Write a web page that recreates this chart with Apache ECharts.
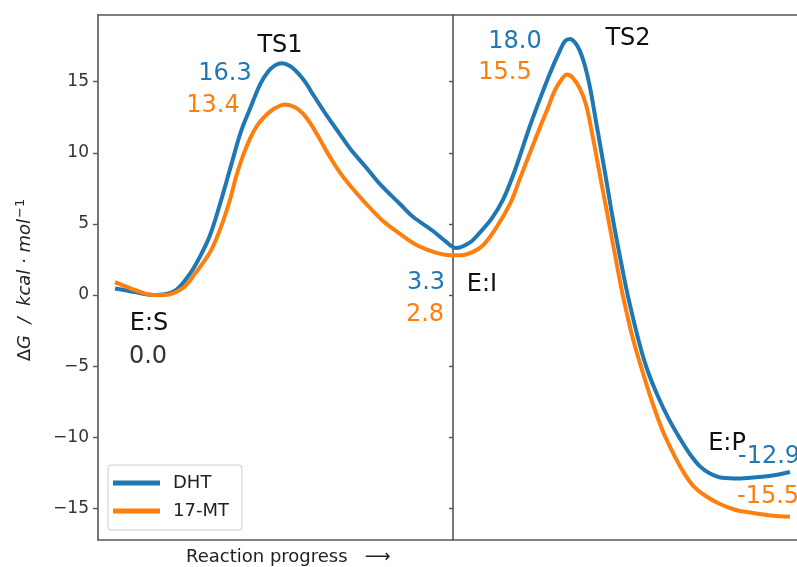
<!DOCTYPE html>
<html><head><meta charset="utf-8">
<script src="https://cdn.jsdelivr.net/npm/echarts@6/dist/echarts.min.js"></script>
<style>html,body{margin:0;padding:0;background:#fff}#c{width:797px;height:567px}</style>
</head><body><div id="c"></div><script>
// ---- data ----
const seriesNames = ['DHT', '17-MT'];
const dhtX = [1.7,3.7,5.5,6.7,7.9,9.2,10.2,11.2,12.2,12.9,13.5,14.3,15.2,16.2,17.0,17.7,18.4,19.2,20.0,20.8,21.5,22.9,24.2,25.2,26.9,28.2,30.2,31.5,33.5,34.7,35.8,37.2,38.2,39.4,40.5,41.5,42.2,43.2,44.2,45.2,46.2,46.7,47.2,47.7,48.2,48.7,49.2,49.9,50.7,51.5,52.5,53.0,54.1,55.0,56.1,57.1,58.2,59.2,60.2,61.2,62.4,64.2,66.2,68.2,69.2];
const dhtG = [0.45,0.2,0.0,0.05,0.4,1.5,2.7,4.2,6.4,8.1,9.6,11.5,13.1,14.8,15.7,16.15,16.3,16.1,15.6,14.9,14.1,12.6,11.3,10.3,8.9,7.8,6.4,5.5,4.5,3.8,3.3,3.7,4.4,5.4,6.7,8.4,9.8,11.9,13.8,15.6,17.2,17.85,18.0,17.75,17.15,16.1,14.6,11.8,8.6,5.3,1.6,-0.1,-3.3,-5.4,-7.3,-8.75,-10.1,-11.2,-12.05,-12.55,-12.85,-12.9,-12.8,-12.6,-12.45];
const mtX = [1.7,3.7,5.5,6.7,8.5,9.7,11.2,12.2,13.2,13.8,14.5,15.2,15.9,16.6,17.5,18.7,19.7,20.5,21.3,21.9,23.2,24.2,25.2,26.7,28.5,30.2,31.9,33.7,35.2,36.2,37.4,38.5,39.7,41.2,42.2,43.2,44.2,44.9,45.7,46.3,46.9,47.5,48.2,48.8,49.4,50.2,51.2,52.0,52.6,53.5,54.5,55.5,56.5,57.5,58.5,59.5,60.7,62.2,63.7,65.2,67.2,69.2];
const mtG = [0.9,0.35,0.0,0.0,0.5,1.5,3.0,4.6,6.7,8.3,9.8,11.0,11.9,12.5,13.05,13.4,13.2,12.75,12.0,11.3,9.7,8.6,7.7,6.5,5.2,4.3,3.5,3.0,2.8,2.8,3.0,3.5,4.6,6.4,8.2,10.0,11.8,13.0,14.4,15.1,15.5,15.25,14.5,13.4,11.4,8.4,4.7,1.7,-0.4,-3.1,-5.5,-7.7,-9.6,-11.1,-12.4,-13.4,-14.1,-14.7,-15.1,-15.3,-15.5,-15.6];
const yTicks = [-15, -10, -5, 0, 5, 10, 15];
const stageDivider = 35.5;
// annotation texts, anchored in data coordinates
const labelTexts = ['TS1','16.3','13.4','TS2','18.0','15.5','E:S','0.0','E:I','3.3','2.8','E:P','-12.9','-15.5'];
const labelX = [18.2,12.7,11.5,53.0,41.7,40.7,5.1,5.0,38.4,32.8,32.7,62.9,64.0,63.9];
const labelY = [17.5,15.58,13.29,18.0,17.83,15.61,-2.04,-4.36,0.70,0.84,-1.41,-10.48,-11.39,-14.2];
const labelKind = ['k','b','o','k','b','o','k','g','k','b','o','k','b','o'];

// ---- chart ----
const FONT = 'DejaVu Sans';
const BLUE = '#1f77b4', ORANGE = '#ff7f0e';
const kindColor = {k:'#111', b:BLUE, o:ORANGE, g:'#333'};
const X_MIN = 0, X_MAX = 69.9, Y_MIN = -17.23, Y_MAX = 19.69;
const axisLine = {show:true, onZero:false, lineStyle:{color:'#555', width:1.6}};
const chart = echarts.init(document.getElementById('c'), null, {renderer:'canvas'});
const option = {
  animation:false,
  backgroundColor:'#fff',
  grid:{left:98, top:15, right:0, bottom:27, containLabel:false},
  xAxis:[
    {type:'value', min:X_MIN, max:X_MAX, position:'bottom', axisLine:axisLine, axisTick:{show:false}, axisLabel:{show:false}, splitLine:{show:false}},
    {type:'value', min:X_MIN, max:X_MAX, position:'top', axisLine:axisLine, axisTick:{show:false}, axisLabel:{show:false}, splitLine:{show:false}}
  ],
  yAxis:[
    {type:'value', min:Y_MIN, max:Y_MAX, position:'left', axisLine:axisLine,
     axisTick:{show:true, length:5, customValues:yTicks, lineStyle:{color:'#555', width:1.4}},
     axisLabel:{show:true, customValues:yTicks, margin:9, color:'#333', fontFamily:FONT, fontSize:17,
       formatter:v => String(v).replace('-', '\u2212')},
     splitLine:{show:false}},
    {type:'value', min:Y_MIN, max:Y_MAX, position:'left', offset:-(stageDivider*10), axisLine:axisLine,
     axisTick:{show:true, length:4, customValues:yTicks, lineStyle:{color:'#555', width:1.4}},
     axisLabel:{show:false}, splitLine:{show:false}}
  ],
  legend:{
    orient:'vertical', left:108, top:465, data:seriesNames,
    icon:'rect', itemWidth:47, itemHeight:5, itemGap:10,
    padding:[9,13,10,5],
    backgroundColor:'rgba(255,255,255,0.8)', borderColor:'#cccccc', borderWidth:1, borderRadius:3,
    textStyle:{fontFamily:FONT, fontSize:18, color:'#222', padding:[0,0,0,8]}
  },
  series:[
    {name:seriesNames[0], type:'line', data:dhtX.map((x,i)=>[x,dhtG[i]]), smooth:0.35, showSymbol:false,
     lineStyle:{color:BLUE, width:4}, itemStyle:{color:BLUE}, z:2},
    {name:seriesNames[1], type:'line', data:mtX.map((x,i)=>[x,mtG[i]]), smooth:0.35, showSymbol:false,
     lineStyle:{color:ORANGE, width:4}, itemStyle:{color:ORANGE}, z:3}
  ]
};
chart.setOption(option);

const graphics = [];
labelTexts.forEach((t, i) => {
  const p = chart.convertToPixel({gridIndex:0}, [labelX[i], labelY[i]]);
  const leftAligned = t.startsWith('-');
  graphics.push({type:'text', x:p[0], y:p[1], z:10, style:{
    text:t, fill:kindColor[labelKind[i]], font:'24px "DejaVu Sans"',
    align:leftAligned ? 'left' : 'center', verticalAlign:'middle'}});
});
// axis titles
graphics.push({type:'text', x:25, y:280, rotation:Math.PI/2, z:10, style:{
  text:'{d|\u0394}{a|G  /  kcal \u00b7 mol}{s|\u22121}', fill:'#222',
  rich:{
    d:{fontFamily:FONT, fontSize:18, fill:'#222'},
    a:{fontFamily:FONT, fontSize:18, fontStyle:'italic', fill:'#222'},
    s:{fontFamily:FONT, fontSize:13, fill:'#222', padding:[0,0,9,1]}
  },
  align:'center', verticalAlign:'middle'}});
graphics.push({type:'text', x:186, y:557, z:10, style:{
  text:'Reaction progress   \u27f6', fill:'#222', font:'18px "DejaVu Sans"',
  align:'left', verticalAlign:'middle'}});
chart.setOption({graphic:graphics});
</script></body></html>
